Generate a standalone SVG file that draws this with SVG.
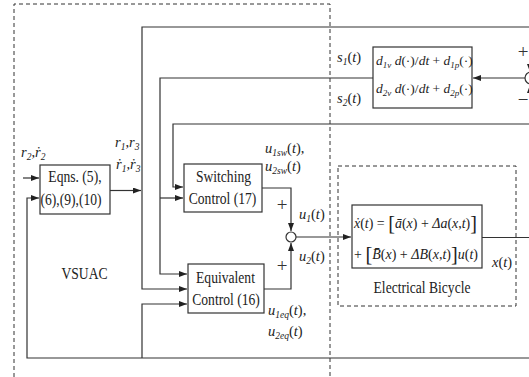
<svg xmlns="http://www.w3.org/2000/svg" width="529" height="377" viewBox="0 0 529 377">
<defs>
<marker id="arr" markerWidth="8" markerHeight="6" refX="8" refY="3" orient="auto" markerUnits="userSpaceOnUse">
<path d="M0,0 L8,3 L0,6 Z" fill="#222"/>
</marker>
<style>
.ln{fill:none;stroke:#333;stroke-width:1.2}
.dash{fill:none;stroke:#333;stroke-width:1;stroke-dasharray:4,3}
.box{fill:#fff;stroke:#333;stroke-width:1.2}
.t{font-family:'Liberation Serif','DejaVu Serif',serif;font-size:16px;fill:#222;text-anchor:middle}
.m{font-family:'Liberation Serif','DejaVu Serif',serif;font-size:14.5px;font-style:italic;fill:#222}
.m.f{font-size:13.5px}
.s{font-size:9.5px}
.m.f .s{font-size:9px}
.up{font-style:normal}
.pl{font-family:'Liberation Serif','DejaVu Serif',serif;font-size:19px;fill:#333;text-anchor:middle}
</style>
</defs>
<rect width="529" height="377" fill="#fff"/>
<path class="dash" d="M14,377 V4 H330 V377"/>
<rect class="dash" x="338" y="166" width="178" height="140"/>
<g id="connectors">
<path class="ln" d="M23,178 H39" marker-end="url(#arr)"/>
<path class="ln" d="M529,358 H27 V198 H39" marker-end="url(#arr)"/>
<path class="ln" d="M110,190.5 H141" marker-end="url(#arr)"/>
<path class="ln" d="M529,27 H142 V289 H187" marker-end="url(#arr)"/>
<path class="ln" d="M142,358 V304 H187" marker-end="url(#arr)"/>
<path class="ln" d="M525,78 H473" marker-end="url(#arr)"/>
<path class="ln" d="M373,78 H160 V274 H187" marker-end="url(#arr)"/>
<path class="ln" d="M160,198 H183" marker-end="url(#arr)"/>
<path class="ln" d="M529,124 H173 V187 H183" marker-end="url(#arr)"/>
<path class="ln" d="M262,188 H291 V231" marker-end="url(#arr)"/>
<path class="ln" d="M264,289 H291 V243" marker-end="url(#arr)"/>
<path class="ln" d="M296,237 H351" marker-end="url(#arr)"/>
<path class="ln" d="M482,237.5 H529"/>
<path class="ln" d="M530,27 V72" marker-end="url(#arr)"/>
<path class="ln" d="M530,124 V85" marker-end="url(#arr)"/>
</g>
<g id="sum1"><circle cx="291" cy="237" r="5" class="box"/></g>
<g id="sum2"><circle cx="531" cy="78" r="6" class="box"/></g>
<g id="eqns">
<rect class="box" x="40" y="165" width="70" height="49"/>
<text class="t" x="88.2" y="182" transform="scale(0.85,1)">Eqns. (5),</text>
<text class="t" x="83.5" y="205" transform="scale(0.85,1)">(6),(9),(10)</text>
</g>
<g id="switching">
<rect class="box" x="184" y="164" width="78" height="48"/>
<text class="t" x="262.9" y="182" transform="scale(0.85,1)">Switching</text>
<text class="t" x="261.8" y="204" transform="scale(0.85,1)">Control (17)</text>
</g>
<g id="equivalent">
<rect class="box" x="188" y="264" width="76" height="49"/>
<text class="t" x="265.3" y="283" transform="scale(0.85,1)">Equivalent</text>
<text class="t" x="265.9" y="305" transform="scale(0.85,1)">Control (16)</text>
</g>
<g id="filter">
<rect class="box" x="373" y="47" width="99" height="61"/>
<text class="m f" x="376" y="65">d<tspan class="s" dy="3">1v</tspan><tspan dy="-3"> d</tspan><tspan class="up">(·)/</tspan>dt<tspan class="up"> + </tspan>d<tspan class="s" dy="3">1p</tspan><tspan class="up" dy="-3">(·)</tspan></text>
<text class="m f" x="376" y="93">d<tspan class="s" dy="3">2v</tspan><tspan dy="-3"> d</tspan><tspan class="up">(·)/</tspan>dt<tspan class="up"> + </tspan>d<tspan class="s" dy="3">2p</tspan><tspan class="up" dy="-3">(·)</tspan></text>
</g>
<g id="bicycle">
<rect class="box" x="352" y="205" width="130" height="63"/>
<text class="m" x="354" y="228" textLength="123" lengthAdjust="spacingAndGlyphs">ẋ<tspan class="up">(</tspan>t<tspan class="up">) = </tspan><tspan class="up" font-size="21" dy="2">[</tspan><tspan dy="-2">ā</tspan><tspan class="up">(</tspan>x<tspan class="up">) + </tspan>Δa<tspan class="up">(</tspan>x<tspan class="up">,</tspan>t<tspan class="up">)</tspan><tspan class="up" font-size="21" dy="2">]</tspan></text>
<text class="m" x="354" y="259" textLength="124" lengthAdjust="spacingAndGlyphs"><tspan class="up">+ </tspan><tspan class="up" font-size="21" dy="2">[</tspan><tspan dy="-2">B̄</tspan><tspan class="up">(</tspan>x<tspan class="up">) + </tspan>ΔB<tspan class="up">(</tspan>x<tspan class="up">,</tspan>t<tspan class="up">)</tspan><tspan class="up" font-size="21" dy="2">]</tspan><tspan dy="-2">u</tspan><tspan class="up">(</tspan>t<tspan class="up">)</tspan></text>
<text class="t" x="496.5" y="293" transform="scale(0.85,1)">Electrical Bicycle</text>
</g>
<g id="labels">
<text class="t" x="99.4" y="279" transform="scale(0.85,1)">VSUAC</text>
<text class="m" x="21" y="157">r<tspan class="s" dy="3">2</tspan><tspan class="up" dy="-3">,</tspan>ṙ<tspan class="s" dy="3">2</tspan></text>
<text class="m" x="115" y="147">r<tspan class="s" dy="3">1</tspan><tspan class="up" dy="-3">,</tspan>r<tspan class="s" dy="3">3</tspan></text>
<text class="m" x="116" y="169">ṙ<tspan class="s" dy="3">1</tspan><tspan class="up" dy="-3">,</tspan>ṙ<tspan class="s" dy="3">3</tspan></text>
<text class="m" x="265" y="153">u<tspan class="s" dy="3">1sw</tspan><tspan class="up" dy="-3">(</tspan>t<tspan class="up">),</tspan></text>
<text class="m" x="265" y="171">u<tspan class="s" dy="3">2sw</tspan><tspan class="up" dy="-3">(</tspan>t<tspan class="up">)</tspan></text>
<text class="m" x="268" y="315">u<tspan class="s" dy="3">1eq</tspan><tspan class="up" dy="-3">(</tspan>t<tspan class="up">),</tspan></text>
<text class="m" x="268" y="336">u<tspan class="s" dy="3">2eq</tspan><tspan class="up" dy="-3">(</tspan>t<tspan class="up">)</tspan></text>
<text class="m" x="299" y="219">u<tspan class="s" dy="3">1</tspan><tspan class="up" dy="-3">(</tspan>t<tspan class="up">)</tspan></text>
<text class="m" x="299" y="261">u<tspan class="s" dy="3">2</tspan><tspan class="up" dy="-3">(</tspan>t<tspan class="up">)</tspan></text>
<text class="m" x="337" y="62">s<tspan class="s" dy="3">1</tspan><tspan class="up" dy="-3">(</tspan>t<tspan class="up">)</tspan></text>
<text class="m" x="337" y="103">s<tspan class="s" dy="3">2</tspan><tspan class="up" dy="-3">(</tspan>t<tspan class="up">)</tspan></text>
<text class="m" x="492" y="267">x<tspan class="up">(</tspan>t<tspan class="up">)</tspan></text>
<text class="pl" x="282" y="211">+</text>
<text class="pl" x="282" y="272">+</text>
<text class="pl" x="523" y="58">+</text>
<text class="pl" x="523" y="106">−</text>
</g>
</svg>
